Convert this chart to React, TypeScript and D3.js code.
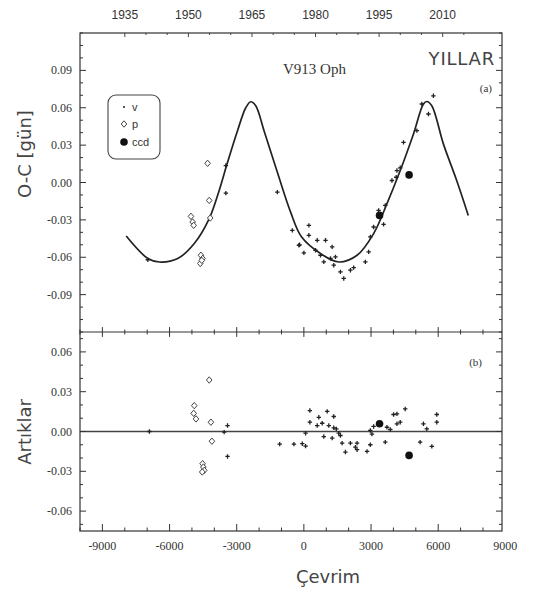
import React from "react";
import * as d3 from "d3";

// cycle -> year conversion
const T0 = 1977.25;
const CYCLES_PER_YEAR = 189.3;

const yearTicks = [1935, 1950, 1965, 1980, 1995, 2010];
const xTicks = [-9000, -6000, -3000, 0, 3000, 6000, 9000];
const topYTicks = [0.09, 0.06, 0.03, 0.0, -0.03, -0.06, -0.09];
const botYTicks = [0.06, 0.03, 0.0, -0.03, -0.06];

// fitted O-C curve [cycle, O-C]
const fitCurve: [number, number][] = [
  [-7935, -0.043], [-6970, -0.061], [-6453, -0.0638], [-5635, -0.061],
  [-4896, -0.049], [-4228, -0.029], [-3783, -0.0064], [-3410, 0.0162],
  [-2964, 0.0416], [-2595, 0.06], [-2372, 0.0648], [-2150, 0.0616],
  [-1780, 0.0416], [-1184, 0.0082], [-592, -0.0238], [-100, -0.0438],
  [743, -0.057], [1558, -0.0638], [2376, -0.0584], [3116, -0.041],
  [3712, -0.017], [4304, 0.0096], [4896, 0.039], [5341, 0.063],
  [5492, 0.065], [5715, 0.0616], [6231, 0.031], [6826, 0.0016], [7344, -0.0264],
];

// O-C observations
const ocVisual: [number, number][] = [
  [-6970, -0.062], [-3485, 0.0136], [-3485, -0.0085], [-1184, -0.0077],
  [-516, -0.0384], [-190, -0.05], [223, -0.0344], [223, -0.0424],
  [-223, -0.0504], [0, -0.0565], [596, -0.0464], [966, -0.0464],
  [1264, -0.0517], [521, -0.0544], [743, -0.0584], [890, -0.0637],
  [1188, -0.061], [1411, -0.0597], [1335, -0.0664], [1633, -0.0717],
  [1781, -0.077], [2079, -0.0704], [2225, -0.0683], [2746, -0.0637],
  [2893, -0.0557], [2968, -0.0437], [3116, -0.0357], [3338, -0.0224],
  [3561, -0.0336], [3636, -0.0184], [3934, 0.0016], [4157, 0.0096],
  [4126, 0.0042], [4304, 0.0118], [4451, 0.0322], [5047, 0.0416],
  [5270, 0.063], [5564, 0.055], [5786, 0.0696],
];
const ocPhoto: [number, number][] = [
  [-4300, 0.0154], [-4228, -0.0144], [-4183, -0.0285], [-5043, -0.0272],
  [-4968, -0.0317], [-4923, -0.0344], [-4598, -0.0584], [-4524, -0.061],
  [-4628, -0.065], [-4560, -0.0625],
];
const ocCcd: [number, number][] = [[3380, -0.0264], [4700, 0.0061]];

// residuals
const resVisual: [number, number][] = [
  [-6899, 0.0], [-3561, -0.0005], [-3410, 0.0045], [-3410, -0.0188],
  [-1080, -0.0095], [-445, -0.0095], [-71, -0.0092], [76, -0.011],
  [267, 0.0158], [267, 0.007], [76, -0.0013], [668, 0.0107], [596, 0.0045],
  [819, 0.0062], [1042, 0.0152], [1335, 0.0113], [1113, 0.0045],
  [1335, 0.0028], [1450, 0.002], [890, -0.0038], [1264, -0.005],
  [1558, -0.0013], [1633, -0.003], [1709, -0.0088], [1856, -0.0155],
  [2079, -0.0088], [2301, -0.0118], [2376, -0.0137], [2376, -0.0088],
  [2822, -0.015], [2968, -0.01], [2968, 0.0008], [3040, -0.002],
  [3116, 0.0038], [3636, -0.008], [3712, 0.0032], [3860, 0.0015],
  [4006, 0.0128], [4157, 0.0133], [4157, 0.0058], [4304, 0.007],
  [4527, 0.017], [5194, -0.008], [5341, 0.0058], [5490, 0.002],
  [5715, -0.0112], [5937, 0.0128], [5937, 0.007],
];
const resPhoto: [number, number][] = [
  [-4896, 0.0195], [-4923, 0.0137], [-4820, 0.0095], [-4228, 0.0388],
  [-4153, 0.007], [-4108, -0.0073], [-4524, -0.0243], [-4490, -0.0268],
  [-4450, -0.0293], [-4540, -0.0305],
];
const resCcd: [number, number][] = [[3380, 0.0058], [4700, -0.018]];

const W = 534;
const H = 593;
const L = 80, R = 502, T = 33, MID = 332, B = 531;
const ink = "#333";
const serif = "'Liberation Serif', 'DejaVu Serif', serif";
const sans = "'DejaVu Sans', Verdana, sans-serif";
const arial = "'Liberation Sans', Arial, sans-serif";

const x = d3.scaleLinear().domain([-10000, 8850]).range([L, R]);
const yTop = d3.scaleLinear().domain([-0.12, 0.12]).range([MID, T]);
const yBot = d3.scaleLinear().domain([-0.075, 0.075]).range([B, MID]);
const yearX = (yr: number) => x((yr - T0) * CYCLES_PER_YEAR);

const Plus = ({ cx, cy }: { cx: number; cy: number }) => (
  <path d={`M${cx - 2.2},${cy}H${cx + 2.2}M${cx},${cy - 2.2}V${cy + 2.2}`} stroke="#222" strokeWidth={1.3} />
);
const Diamond = ({ cx, cy }: { cx: number; cy: number }) => (
  <path d={`M${cx},${cy - 3.2}L${cx + 2.8},${cy}L${cx},${cy + 3.2}L${cx - 2.8},${cy}Z`} fill="white" stroke="#444" strokeWidth={1} />
);
const Dot = ({ cx, cy }: { cx: number; cy: number }) => <circle cx={cx} cy={cy} r={3.8} fill="#111" />;

export default function App() {
  const line = d3
    .line<[number, number]>()
    .x((d) => x(d[0]))
    .y((d) => yTop(d[1]))
    .curve(d3.curveCatmullRom.alpha(0.5));

  const minorX = d3.range(-10000, 8851, 1000);
  const minorTop = d3.range(-0.12, 0.1201, 0.01);
  const minorBot = d3.range(-0.07, 0.0701, 0.01);
  const minorYears = d3.range(1935, 2016, 5);
  const fmt = (v: number) => (Math.abs(v) < 1e-9 ? "0.00" : d3.format(".2f")(v).replace("−", "-"));

  return (
    <svg width={W} height={H} style={{ position: "absolute", left: 0, top: 0, background: "white" }}>
      {/* frames */}
      <rect x={L} y={T} width={R - L} height={B - T} fill="none" stroke={ink} strokeWidth={1.2} />
      <line x1={L} x2={R} y1={MID} y2={MID} stroke={ink} strokeWidth={1.2} />
      {/* zero line of residuals */}
      <line x1={L} x2={R} y1={yBot(0)} y2={yBot(0)} stroke="#444" strokeWidth={1.3} />

      {/* x ticks: bottom, middle divider */}
      {minorX.map((v) => {
        const major = xTicks.includes(v);
        const len = major ? 7 : 3.5;
        return (
          <g key={"xt" + v} stroke={ink} strokeWidth={1}>
            <line x1={x(v)} x2={x(v)} y1={B} y2={B - len} />
            <line x1={x(v)} x2={x(v)} y1={MID - len * 0.7} y2={MID + len * 0.7} />
          </g>
        );
      })}
      {xTicks.map((v) => (
        <text key={"xl" + v} x={x(v)} y={550} textAnchor="middle" fontFamily={serif} fontSize={12} fill="#333">
          {v < 0 ? "-" + Math.abs(v) : v}
        </text>
      ))}

      {/* year axis on top */}
      {minorYears.map((yr) => (
        <line key={"yt" + yr} x1={yearX(yr)} x2={yearX(yr)} y1={T} y2={T + (yearTicks.includes(yr) ? 4 : 2)} stroke={ink} strokeWidth={0.9} />
      ))}
      {yearTicks.map((yr) => (
        <text key={"yl" + yr} x={yearX(yr)} y={19} textAnchor="middle" fontFamily={arial} fontSize={12} fill="#333">
          {yr}
        </text>
      ))}

      {/* y ticks top panel */}
      {minorTop.map((v) => {
        const major = topYTicks.some((t) => Math.abs(t - v) < 1e-6);
        const len = major ? 6 : 3;
        return (
          <g key={"ty" + v.toFixed(3)} stroke={ink} strokeWidth={1}>
            <line x1={L} x2={L + len} y1={yTop(v)} y2={yTop(v)} />
            <line x1={R} x2={R - len} y1={yTop(v)} y2={yTop(v)} />
          </g>
        );
      })}
      {topYTicks.map((v) => (
        <text key={"tl" + v} x={72} y={yTop(v) + 4} textAnchor="end" fontFamily={serif} fontSize={12} fill="#333">
          {fmt(v)}
        </text>
      ))}

      {/* y ticks bottom panel */}
      {minorBot.map((v) => {
        const major = botYTicks.some((t) => Math.abs(t - v) < 1e-6);
        const len = major ? 6 : 3;
        return (
          <g key={"by" + v.toFixed(3)} stroke={ink} strokeWidth={1}>
            <line x1={L} x2={L + len} y1={yBot(v)} y2={yBot(v)} />
            <line x1={R} x2={R - len} y1={yBot(v)} y2={yBot(v)} />
          </g>
        );
      })}
      {botYTicks.map((v) => (
        <text key={"bl" + v} x={72} y={yBot(v) + 4} textAnchor="end" fontFamily={serif} fontSize={12} fill="#333">
          {fmt(v)}
        </text>
      ))}

      {/* fitted curve */}
      <path d={line(fitCurve) || ""} fill="none" stroke="#222" strokeWidth={1.7} />

      {/* top panel points */}
      {ocPhoto.map((d, i) => <Diamond key={"op" + i} cx={x(d[0])} cy={yTop(d[1])} />)}
      {ocVisual.map((d, i) => <Plus key={"ov" + i} cx={x(d[0])} cy={yTop(d[1])} />)}
      {ocCcd.map((d, i) => <Dot key={"oc" + i} cx={x(d[0])} cy={yTop(d[1])} />)}

      {/* residual points */}
      {resPhoto.map((d, i) => <Diamond key={"rp" + i} cx={x(d[0])} cy={yBot(d[1])} />)}
      {resVisual.map((d, i) => <Plus key={"rv" + i} cx={x(d[0])} cy={yBot(d[1])} />)}
      {resCcd.map((d, i) => <Dot key={"rc" + i} cx={x(d[0])} cy={yBot(d[1])} />)}

      {/* legend */}
      <rect x={108} y={95} width={52} height={64} rx={8} fill="white" stroke="#444" strokeWidth={1.1} />
      <circle cx={124} cy={107} r={1} fill="#222" />
      <text x={132} y={111} fontFamily={arial} fontSize={11} fill="#333">v</text>
      <Diamond cx={124} cy={124} />
      <text x={132} y={128} fontFamily={arial} fontSize={11} fill="#333">p</text>
      <Dot cx={124} cy={142} />
      <text x={132} y={146} fontFamily={arial} fontSize={11} fill="#333">ccd</text>

      {/* annotations */}
      <text x={283} y={74} fontFamily={serif} fontSize={15} fill="#333">V913 Oph</text>
      <text x={495} y={65} textAnchor="end" fontFamily={sans} fontSize={18} letterSpacing={0.8} fill="#444">YILLAR</text>
      <text x={492} y={92} textAnchor="end" fontFamily={serif} fontSize={11} fill="#333">(a)</text>
      <text x={482} y={366} textAnchor="end" fontFamily={serif} fontSize={11} fill="#333">(b)</text>

      {/* axis titles */}
      <text transform="translate(31,154) rotate(-90)" textAnchor="middle" fontFamily={sans} fontSize={18} fill="#444">O-C [gün]</text>
      <text transform="translate(31,432) rotate(-90)" textAnchor="middle" fontFamily={sans} fontSize={18} fill="#444">Artıklar</text>
      <text x={328} y={583} textAnchor="middle" fontFamily={sans} fontSize={18} fill="#444">Çevrim</text>
    </svg>
  );
}
